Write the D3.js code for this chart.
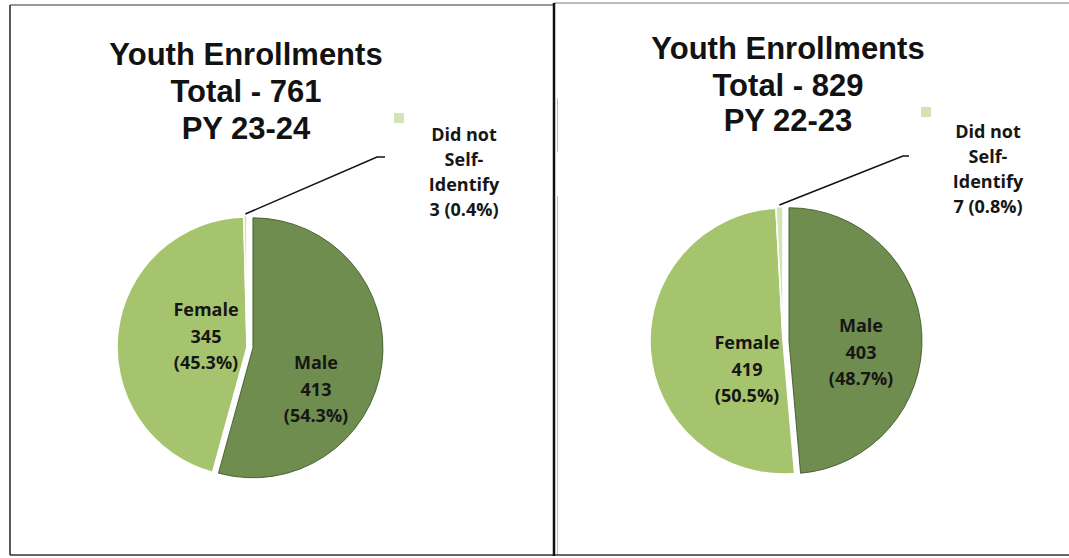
<!DOCTYPE html>
<html>
<head>
<meta charset="utf-8">
<script src="https://cdn.jsdelivr.net/npm/d3@7/dist/d3.min.js"></script>
<style>
  html, body { margin: 0; padding: 0; background: #fff; }
  svg { display: block; }
</style>
</head>
<body>
<svg id="chart" width="1069" height="558"></svg>
<script>
// Youth enrollment by gender, two program years
const categories = ["Male", "Female", "Did not Self-Identify"];

const enrollmentsPY2324 = [413, 345, 3];
const percentLabelsPY2324 = ["54.3%", "45.3%", "0.4%"];
const titlePY2324 = ["Youth Enrollments", "Total - 761", "PY 23-24"];

const enrollmentsPY2223 = [403, 419, 7];
const percentLabelsPY2223 = ["48.7%", "50.5%", "0.8%"];
const titlePY2223 = ["Youth Enrollments", "Total - 829", "PY 22-23"];

const sliceColors = ["#6f8d4f", "#a6c46d", "#d2e3b6"];

const svg = d3.select("#chart");

// Panel frames
const frame = svg.append("g");
frame.append("line").attr("x1", 10).attr("y1", 5).attr("x2", 10).attr("y2", 555)
  .attr("stroke", "#222").attr("stroke-width", 1.5);
frame.append("line").attr("x1", 10).attr("y1", 5).attr("x2", 554).attr("y2", 5)
  .attr("stroke", "#333").attr("stroke-width", 1.2);
frame.append("line").attr("x1", 554).attr("y1", 3).attr("x2", 1069).attr("y2", 3)
  .attr("stroke", "#777").attr("stroke-width", 1);
frame.append("line").attr("x1", 10).attr("y1", 555).attr("x2", 1069).attr("y2", 555)
  .attr("stroke", "#333").attr("stroke-width", 1.5);
frame.append("line").attr("x1", 554).attr("y1", 3).attr("x2", 554).attr("y2", 556)
  .attr("stroke", "#111").attr("stroke-width", 2.5);
frame.append("line").attr("x1", 557.5).attr("y1", 98).attr("x2", 557.5).attr("y2", 152)
  .attr("stroke", "#f2a6c6").attr("stroke-width", 1);
frame.append("line").attr("x1", 557.5).attr("y1", 196).attr("x2", 557.5).attr("y2", 554)
  .attr("stroke", "#f2a6c6").attr("stroke-width", 1);

const panels = [
  {
    values: enrollmentsPY2324, percents: percentLabelsPY2324, title: titlePY2324,
    cx: 247, cy: 347, r: 130,
    titleX: 246, titleY: [65, 102, 139],
    maleLabel: { x: 316, y: 369 }, femaleLabel: { x: 206, y: 316 },
    otherLabel: { x: 464, y: 141 },
    leaderElbow: [377, 157], leaderEnd: 385,
    marker: { x: 394, y: 113 }
  },
  {
    values: enrollmentsPY2223, percents: percentLabelsPY2223, title: titlePY2223,
    cx: 783, cy: 341, r: 133,
    titleX: 788, titleY: [59, 96, 131],
    maleLabel: { x: 861, y: 332 }, femaleLabel: { x: 747, y: 349 },
    otherLabel: { x: 988, y: 138 },
    leaderElbow: [903, 156], leaderEnd: 909,
    marker: { x: 921, y: 107 }
  }
];

const pie = d3.pie().sort(null).startAngle(0).endAngle(2 * Math.PI);
const explode = [6, 0, 1.5];

panels.forEach(p => {
  const g = svg.append("g");
  const arcs = pie(p.values);
  const arc = d3.arc().innerRadius(0).outerRadius(p.r);

  // Title
  const title = g.append("text")
    .attr("text-anchor", "middle")
    .attr("font-family", "Liberation Sans, Arial, sans-serif")
    .attr("font-weight", "bold")
    .attr("font-size", 31)
    .attr("fill", "#121212");
  p.title.forEach((t, i) => {
    title.append("tspan").attr("x", p.titleX).attr("y", p.titleY[i]).text(t);
  });

  // Slices
  const pieG = g.append("g").attr("transform", `translate(${p.cx},${p.cy})`);
  pieG.selectAll("path")
    .data(arcs)
    .join("path")
    .attr("transform", (d, i) => {
      const mid = (d.startAngle + d.endAngle) / 2;
      return `translate(${explode[i] * Math.sin(mid)},${-explode[i] * Math.cos(mid)})`;
    })
    .attr("d", arc)
    .attr("fill", (d, i) => sliceColors[i])
    .attr("stroke", (d, i) => i === 0 ? "#3f5a28" : "#ffffff")
    .attr("stroke-width", (d, i) => i === 0 ? 0.9 : 1.5)
    .attr("stroke-linejoin", "round");

  // Leader line for the small slice
  const small = arcs[2];
  const midA = (small.startAngle + small.endAngle) / 2;
  const sx = p.cx + (p.r + 3) * Math.sin(midA);
  const sy = p.cy - (p.r + 3) * Math.cos(midA);
  g.append("path")
    .attr("d", `M${sx},${sy}L${p.leaderElbow[0]},${p.leaderElbow[1]}L${p.leaderEnd},${p.leaderElbow[1]}`)
    .attr("fill", "none")
    .attr("stroke", "#111")
    .attr("stroke-width", 1.5);

  // Small legend-style marker
  g.append("rect")
    .attr("x", p.marker.x).attr("y", p.marker.y)
    .attr("width", 10).attr("height", 10)
    .attr("fill", sliceColors[2]);

  // Data labels
  const labelFont = sel => sel
    .attr("text-anchor", "middle")
    .attr("font-family", "Open Sans, sans-serif")
    .attr("font-weight", "bold")
    .attr("font-size", 18)
    .attr("fill", "#161616");

  const addLines = (pos, lines, step) => {
    const t = g.append("text").call(labelFont);
    lines.forEach((line, i) => {
      t.append("tspan").attr("x", pos.x).attr("y", pos.y + i * step).text(line);
    });
  };

  addLines(p.femaleLabel, [categories[1], String(p.values[1]), `(${p.percents[1]})`], 26.5);
  addLines(p.maleLabel, [categories[0], String(p.values[0]), `(${p.percents[0]})`], 26.5);
  addLines(p.otherLabel, ["Did not", "Self-", "Identify", `${p.values[2]} (${p.percents[2]})`], 25);
});
</script>
</body>
</html>
